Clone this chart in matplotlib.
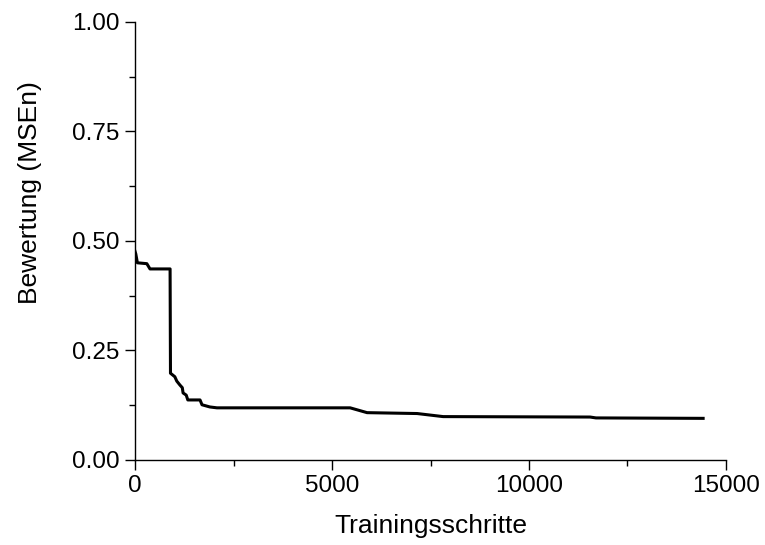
import matplotlib
matplotlib.use("Agg")
import matplotlib.pyplot as plt
from matplotlib.ticker import MultipleLocator, FormatStrFormatter

plt.rcParams['font.family'] = ['Liberation Sans', 'DejaVu Sans']

# training steps vs. score
steps = [0, 20, 60, 300, 380, 890, 900, 1010, 1060, 1140, 1200, 1220, 1300, 1340,
         1650, 1700, 1900, 2080, 5460, 5890, 7160, 7820, 11550, 11700, 14420]
score = [0.476, 0.470, 0.450, 0.448, 0.436, 0.436, 0.198, 0.190, 0.180, 0.171,
         0.165, 0.153, 0.148, 0.137, 0.137, 0.126, 0.121, 0.119, 0.119, 0.108,
         0.106, 0.099, 0.098, 0.096, 0.095]

fig = plt.figure(figsize=(7.65, 5.45), dpi=100)
ax = fig.add_axes([0.1765, 0.156, 0.7725, 0.804])

ax.plot(steps, score, color='black', linewidth=2.2)

ax.set_xlim(0, 15000)
ax.set_ylim(0, 1.0)
ax.xaxis.set_major_locator(MultipleLocator(5000))
ax.xaxis.set_minor_locator(MultipleLocator(2500))
ax.yaxis.set_major_locator(MultipleLocator(0.25))
ax.yaxis.set_minor_locator(MultipleLocator(0.125))
ax.yaxis.set_major_formatter(FormatStrFormatter('%.2f'))

for side in ['top', 'right']:
    ax.spines[side].set_visible(False)
for side in ['left', 'bottom']:
    ax.spines[side].set_linewidth(1.0)

ax.tick_params(which='major', direction='out', length=7, width=1.0, labelsize=17.5, pad=4)
ax.tick_params(which='minor', direction='out', length=4, width=1.0)

ax.set_xlabel('Trainingsschritte', fontsize=19, labelpad=12)
ax.set_ylabel('Bewertung (MSEn)', fontsize=19)
ax.yaxis.set_label_coords(-0.158, 0.61)

fig.savefig('out.png', dpi=100)
